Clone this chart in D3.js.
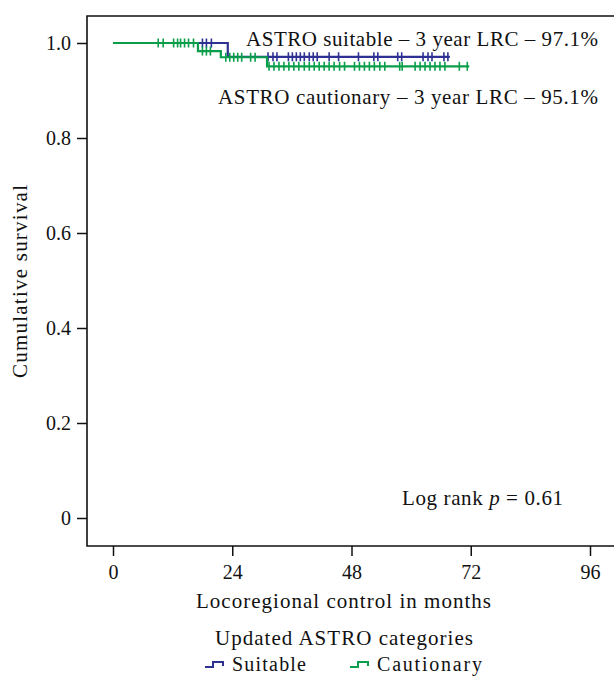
<!DOCTYPE html>
<html>
<head>
<meta charset="utf-8">
<script src="https://cdn.jsdelivr.net/npm/d3@7"></script>
<style>
  body { margin: 0; background: #fff; }
  text { font-family: "Liberation Serif", "DejaVu Serif", serif; fill: #111; }
</style>
</head>
<body>
<div id="chart"></div>
<script>
var svgWidth = 614;
var svgHeight = 678;

// Kaplan-Meier steps: [month, cumulative survival]
var suitableSteps = [[0, 1.0], [23.1, 0.971], [67.8, 0.971]];
var cautionarySteps = [[0, 1.0], [17.1, 0.983], [21.7, 0.970], [31.0, 0.951], [71.7, 0.951]];

// censored months
var suitableCensor = [18.0, 18.8, 19.8, 31.2, 32.2, 33.0, 35.3, 36.1, 36.9, 37.7, 38.5, 39.5, 40.3, 41.1,
  43.5, 45.4, 49.4, 52.5, 53.3, 57.3, 58.1, 62.4, 63.4, 64.2, 66.6, 67.4];
var cautionaryCensor = [9.1, 10.1, 12.2, 13.0, 13.6, 14.4, 15.2, 16.2, 18.0, 18.8, 19.6,
  22.7, 23.5, 24.3, 25.1, 25.9, 27.7, 28.6,
  31.4, 32.4, 33.4, 34.4, 35.4, 36.4, 37.4, 38.5, 39.5, 40.5, 41.5, 42.5, 43.5, 44.5, 45.6, 46.6,
  48.6, 49.6, 50.6, 51.6, 52.6, 53.7, 54.7, 57.7, 58.2, 60.8, 61.8, 62.8, 63.8, 64.8, 65.8, 66.8, 69.7, 71.3];

var xTicks = [0, 24, 48, 72, 96];
var yTicks = [0, 0.2, 0.4, 0.6, 0.8, 1.0];

var blue = "#2e3192";
var green = "#0b9e4a";
var fs = 21;

var svg = d3.select("#chart")
  .append("svg")
  .attr("width", svgWidth)
  .attr("height", svgHeight);

var frame = {left: 87, top: 16, bottom: 546, right: 620};

var x = d3.scaleLinear().domain([0, 96]).range([113, 590]);
var y = d3.scaleLinear().domain([0, 1]).range([518, 43]);

// stretch text spacing to the width seen in the reference (serif there is wider)
function fit(sel, w) {
  sel.attr("textLength", w).attr("lengthAdjust", "spacing");
  return sel;
}

// frame
svg.append("path")
  .attr("d", `M${frame.right},${frame.top}H${frame.left}V${frame.bottom}H${frame.right}`)
  .attr("fill", "none")
  .attr("stroke", "#111")
  .attr("stroke-width", 1.6);

// x axis
var bottomAxis = d3.axisBottom(x).tickValues(xTicks).tickSize(10).tickPadding(9)
  .tickFormat(d3.format("d"));
var gx = svg.append("g")
  .attr("transform", `translate(0, ${frame.bottom})`)
  .call(bottomAxis);
gx.select(".domain").remove();
gx.selectAll("line").attr("stroke", "#111").attr("stroke-width", 1.5);
gx.selectAll("text").attr("font-size", 20).attr("fill", "#111");

// y axis
var leftAxis = d3.axisLeft(y).tickValues(yTicks).tickSize(10).tickPadding(6)
  .tickFormat(d => d === 0 ? "0" : d3.format(".1f")(d));
var gy = svg.append("g")
  .attr("transform", `translate(${frame.left}, 0)`)
  .call(leftAxis);
gy.select(".domain").remove();
gy.selectAll("line").attr("stroke", "#111").attr("stroke-width", 1.5);
gy.selectAll("text").attr("font-size", 20).attr("fill", "#111");

// curves
var line = d3.line()
  .x(d => x(d[0]))
  .y(d => y(d[1]))
  .curve(d3.curveStepAfter);

function survAt(steps, t) {
  var s = steps[0][1];
  steps.forEach(function(p) { if (p[0] <= t) s = p[1]; });
  return s;
}

function drawGroup(steps, censor, color) {
  svg.append("path")
    .datum(steps)
    .attr("d", line)
    .attr("fill", "none")
    .attr("stroke", color)
    .attr("stroke-width", 2.2);
  svg.append("g").selectAll("line")
    .data(censor)
    .enter()
    .append("line")
    .attr("x1", d => x(d))
    .attr("x2", d => x(d))
    .attr("y1", d => y(survAt(steps, d)) - 4.5)
    .attr("y2", d => y(survAt(steps, d)) + 4.5)
    .attr("stroke", color)
    .attr("stroke-width", 1.6);
}

drawGroup(suitableSteps, suitableCensor, blue);
drawGroup(cautionarySteps, cautionaryCensor, green);

// annotations
fit(svg.append("text")
  .attr("x", 246).attr("y", 46)
  .attr("font-size", fs)
  .text("ASTRO suitable – 3 year LRC – 97.1%"), 352);

fit(svg.append("text")
  .attr("x", 218).attr("y", 104)
  .attr("font-size", fs)
  .text("ASTRO cautionary – 3 year LRC – 95.1%"), 380);

var lr = fit(svg.append("text")
  .attr("x", 402).attr("y", 505)
  .attr("font-size", fs), 161);
lr.append("tspan").text("Log rank ");
lr.append("tspan").attr("font-style", "italic").text("p");
lr.append("tspan").text(" = 0.61");

// axis labels
fit(svg.append("text")
  .attr("transform", "rotate(-90)")
  .attr("x", -378).attr("y", 27)
  .attr("font-size", fs)
  .text("Cumulative survival"), 193);

fit(svg.append("text")
  .attr("x", 196).attr("y", 608)
  .attr("font-size", fs)
  .text("Locoregional control in months"), 295);

// legend
fit(svg.append("text")
  .attr("x", 215).attr("y", 645)
  .attr("font-size", fs)
  .text("Updated ASTRO categories"), 258);

var legendItems = [
  {label: "Suitable", color: blue, x: 205, w: 74},
  {label: "Cautionary", color: green, x: 350, w: 105}
];
var lg = svg.append("g").selectAll("g")
  .data(legendItems)
  .enter()
  .append("g")
  .attr("transform", d => `translate(${d.x}, 667)`);
lg.append("path")
  .attr("d", "M0,0H8V-5H18V-1")
  .attr("fill", "none")
  .attr("stroke", d => d.color)
  .attr("stroke-width", 2);
lg.append("text")
  .attr("x", 27).attr("y", 4)
  .attr("font-size", 20)
  .attr("textLength", d => d.w)
  .attr("lengthAdjust", "spacing")
  .text(d => d.label);
</script>
</body>
</html>
